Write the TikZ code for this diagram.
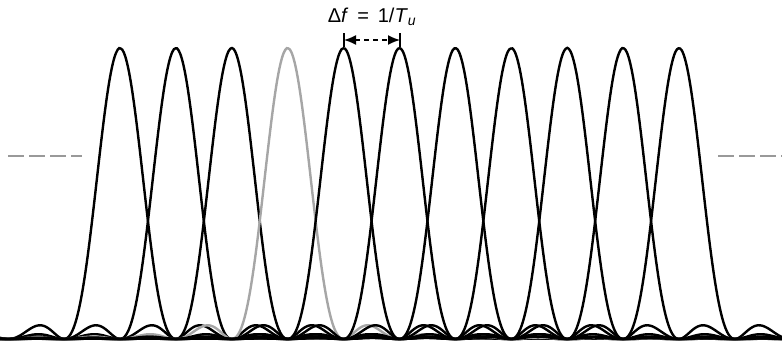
\documentclass[tikz,border=0pt]{standalone}
\usepackage{fontspec}
\setmainfont{Liberation Sans}
\usetikzlibrary{arrows.meta}
\tikzset{
  declare function={sincsq(\u)=(sin(180*(\u+0.00013))/(pi*(\u+0.00013)))^2;},
  carrier/.style={line width=2.4pt,black},
  level/.style={line width=1.6pt,gray!80,dash pattern=on 16pt off 5pt}
}
\begin{document}
\begin{tikzpicture}[x=1pt,y=-1pt]
    \useasboundingbox (0,0) rectangle (782,342);
    \begin{scope}
    \clip (0,0) rectangle (782,342);
    % subcarriers
    \foreach \i in {0,...,10} {
        \pgfmathsetmacro{\c}{120+55.9*\i}
        \ifnum\i=3
            \draw[carrier,gray!70] plot[domain=0:782,samples=500,smooth] (\x,{339-291*sincsq((\x-\c)/55.9)});
        \else
            \draw[carrier] plot[domain=0:782,samples=500,smooth] (\x,{339-291*sincsq((\x-\c)/55.9)});
        \fi
    }
    \end{scope}
    % level lines
    \coordinate (lvlLa) at (8,156);
    \coordinate (lvlLb) at (82,156);
    \coordinate (lvlRa) at (718,156);
    \coordinate (lvlRb) at (782,156);
    \draw[level] (lvlLa) -- (lvlLb);
    \draw[level] (lvlRa) -- (lvlRb);
    % spacing
    \coordinate (tickL) at (344,40);
    \coordinate (tickR) at (400,40);
    \draw[line width=1.5pt] ([yshift=-7pt]tickL) -- ([yshift=7pt]tickL);
    \draw[line width=1.5pt] ([yshift=-7pt]tickR) -- ([yshift=7pt]tickR);
    \draw[line width=1.5pt,dash pattern=on 5pt off 4pt,{Latex[length=12pt,width=10pt]}-{Latex[length=12pt,width=10pt]}] (tickL) -- (tickR);
    \node[font=\fontsize{20}{24}\selectfont] (spacing) at (372,17) {Δ\textit{f}\, =\, 1/\textit{T}\textsubscript{\textit{u}}};
\end{tikzpicture}
\end{document}
